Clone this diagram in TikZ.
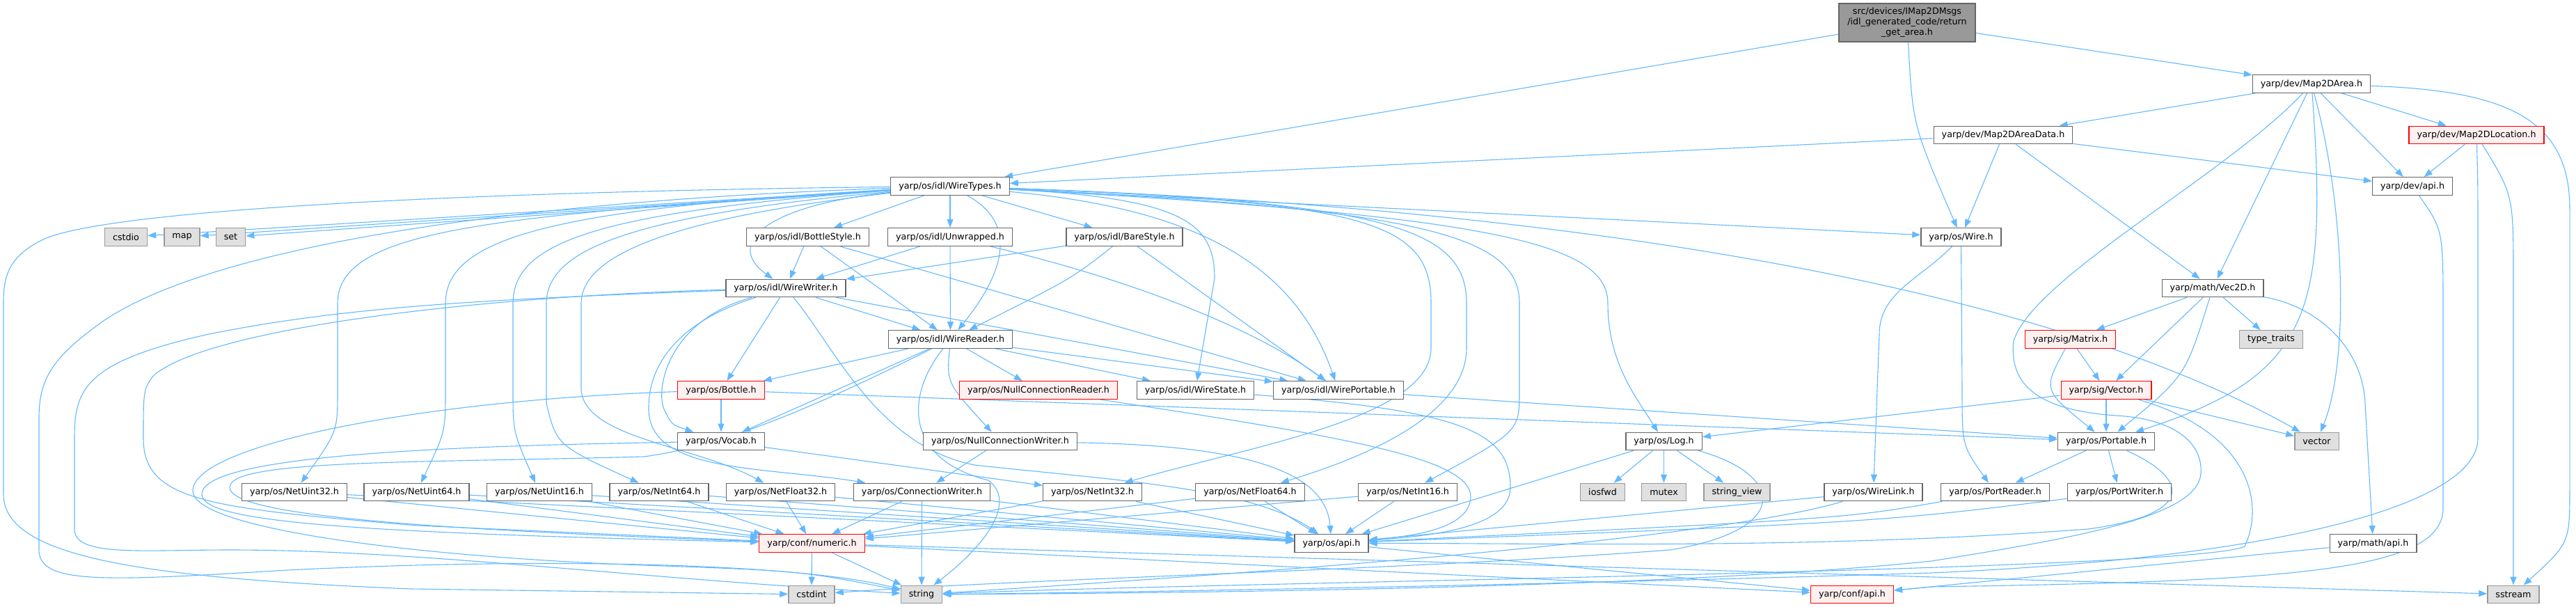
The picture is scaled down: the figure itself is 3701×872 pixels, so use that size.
\documentclass[tikz,border=0pt]{standalone}
\usepackage{fontspec}
\setmainfont{DejaVu Sans}
\usetikzlibrary{arrows.meta,backgrounds}
\definecolor{depblue}{HTML}{63B8FF}
\definecolor{truncred}{HTML}{FFF0F0}

\begin{document}
\begin{tikzpicture}[x=1pt,y=-1pt,
  file/.style={draw=black!60,fill=white,line width=1.3pt,minimum height=25.5pt,
    inner xsep=11.5pt,inner ysep=0pt,font=\fontsize{12.7}{15}\selectfont},
  trunc/.style={file,draw=red,fill=truncred},
  sys/.style={file,draw=black!40,fill=black!12},
  root/.style={file,fill=black!40,align=center,minimum width=196pt,minimum height=55pt},
  dep/.style={draw=depblue,line width=1.1pt,-{Triangle[length=12pt,width=9pt]}}]
  \useasboundingbox (0,0) rectangle (3701,872);

  % the file itself
  \node[root] (ret) at (2740,32.5) {src/devices/IMap2DMsgs\\/idl\_generated\_code/return\\\_get\_area.h};
  % dev headers
  \node[file] (area) at (3321,120.5) {yarp/dev/Map2DArea.h};
  \node[file] (areadata) at (2878,194) {yarp/dev/Map2DAreaData.h};
  \node[trunc] (loc) at (3558,194) {yarp/dev/Map2DLocation.h};
  \node[file] (devapi) at (3466,267.5) {yarp/dev/api.h};
  % idl headers
  \node[file] (wt) at (1365,267.5) {yarp/os/idl/WireTypes.h};
  \node[file] (bstyle) at (1160.5,340.5) {yarp/os/idl/BottleStyle.h};
  \node[file] (unwr) at (1365,340.5) {yarp/os/idl/Unwrapped.h};
  \node[file] (bare) at (1615.5,340.5) {yarp/os/idl/BareStyle.h};
  \node[file] (ww) at (1129,414) {yarp/os/idl/WireWriter.h};
  \node[file] (wr) at (1365.5,487.5) {yarp/os/idl/WireReader.h};
  \node[file] (wstate) at (1717.5,560.5) {yarp/os/idl/WireState.h};
  \node[file] (wport) at (1923,560.5) {yarp/os/idl/WirePortable.h};
  % os headers
  \node[file] (wire) at (2817.5,340.5) {yarp/os/Wire.h};
  \node[trunc] (bottle) at (1036,560.5) {yarp/os/Bottle.h};
  \node[trunc] (ncr) at (1492,560.5) {yarp/os/NullConnectionReader.h};
  \node[file] (vocab) at (1036,634) {yarp/os/Vocab.h};
  \node[file] (ncw) at (1437,634) {yarp/os/NullConnectionWriter.h};
  \node[file] (log) at (2390.5,634) {yarp/os/Log.h};
  \node[file] (portable) at (3026,634) {yarp/os/Portable.h};
  \node[file] (nu32) at (423,707) {yarp/os/NetUint32.h};
  \node[file] (nu64) at (598.5,707) {yarp/os/NetUint64.h};
  \node[file] (nu16) at (775,707) {yarp/os/NetUint16.h};
  \node[file] (ni64) at (947,707) {yarp/os/NetInt64.h};
  \node[file] (nf32) at (1121.5,707) {yarp/os/NetFloat32.h};
  \node[file] (cw) at (1324.5,707) {yarp/os/ConnectionWriter.h};
  \node[file] (ni32) at (1569.5,707) {yarp/os/NetInt32.h};
  \node[file] (nf64) at (1796,707) {yarp/os/NetFloat64.h};
  \node[file] (ni16) at (2022.5,707) {yarp/os/NetInt16.h};
  \node[file] (wlink) at (2691.5,707) {yarp/os/WireLink.h};
  \node[file] (preader) at (2866.5,707) {yarp/os/PortReader.h};
  \node[file] (pwriter) at (3045,707) {yarp/os/PortWriter.h};
  \node[file] (osapi) at (1913,780.5) {yarp/os/api.h};
  % math and sig headers
  \node[file] (vec2d) at (3179,414) {yarp/math/Vec2D.h};
  \node[trunc] (matrix) at (2974.5,487.5) {yarp/sig/Matrix.h};
  \node[trunc] (sigvec) at (3026,560.5) {yarp/sig/Vector.h};
  \node[file] (mathapi) at (3409.5,780.5) {yarp/math/api.h};
  % conf headers
  \node[trunc] (numeric) at (1166.5,780.5) {yarp/conf/numeric.h};
  \node[trunc] (confapi) at (2661,854) {yarp/conf/api.h};
  % system headers
  \node[sys] (cstdio) at (181,340.5) {cstdio};
  \node[sys] (stdmap) at (261.5,340.5) {map};
  \node[sys] (stdset) at (331.5,340.5) {set};
  \node[sys] (ttraits) at (3263,487.5) {type\_traits};
  \node[sys] (stdvector) at (3328.5,634) {vector};
  \node[sys] (iosfwd) at (2302.5,707) {iosfwd};
  \node[sys] (mutex) at (2390.5,707) {mutex};
  \node[sys] (strview) at (2495.5,707) {string\_view};
  \node[sys] (cstdint) at (1166,854) {cstdint};
  \node[sys] (stdstring) at (1324,854) {string};
  \node[sys] (sstream) at (3611,854) {sstream};

  \begin{scope}[on background layer]
    % from the file itself
    \draw[dep] (ret) -- (wt);
    \draw[dep] (ret) .. controls (2748,180) .. (wire);
    \draw[dep] (ret) -- (area);
    % Map2DArea.h
    \draw[dep] (area) -- (areadata);
    \draw[dep] (area) -- (loc);
    \draw[dep] (area) -- (devapi);
    \draw[dep] (area) -- (vec2d);
    \draw[dep] (area) .. controls (3345,450) and (3320,540) .. (portable);
    \draw[dep] (area) .. controls (3370,300) and (3375,520) .. (stdvector);
    \draw[dep] (area) .. controls (3200,250) and (2920,400) .. (2893,490)
      .. controls (2885,560) and (2940,590) .. (3040,597)
      .. controls (3130,602) and (3165,640) .. (3162,680)
      .. controls (3158,740) and (3000,770) .. (2775,806)
      .. controls (2400,845) and (1700,852) .. (stdstring);
    \draw[dep] (area) .. controls (3600,130) and (3692,170) .. (3692,300) -- (3692,700)
      .. controls (3692,780) .. (sstream);
    % Map2DAreaData.h
    \draw[dep] (areadata) -- (wt);
    \draw[dep] (areadata) -- (wire);
    \draw[dep] (areadata) -- (devapi);
    \draw[dep] (areadata) -- (vec2d);
    % Map2DLocation.h
    \draw[dep] (loc) -- (devapi);
    \draw[dep] (loc) .. controls (3560,260) .. (3560,400) -- (3560,630)
      .. controls (3560,720) and (3300,800) .. (2775,823)
      .. controls (2300,838) and (1700,850) .. (stdstring);
    \draw[dep] (loc) .. controls (3611,280) .. (3611,400) -- (sstream);
    % dev/api.h
    \draw[dep] (devapi) .. controls (3510,330) .. (3510,450) -- (3510,730)
      .. controls (3510,820) and (3300,835) .. (2775,843) -- (confapi);
    % WireTypes.h
    \draw[dep] (wt) -- (cstdio);
    \draw[dep] (wt) -- (stdmap);
    \draw[dep] (wt) -- (stdset);
    \draw[dep] (wt) -- (bstyle);
    \draw[dep] (wt) -- (unwr);
    \draw[dep] (wt) -- (bare);
    \draw[dep] (wt) .. controls (1100,295) and (1040,350) .. (ww);
    \draw[dep] (wt) .. controls (1480,330) and (1420,420) .. (wr);
    \draw[dep] (wt) .. controls (1700,285) and (1745,320) .. (1745,400) -- (wstate);
    \draw[dep] (wt) .. controls (1720,300) and (1860,380) .. (wport);
    \draw[dep] (wt) -- (wire);
    \draw[dep] (wt) .. controls (2150,310) and (2310,350) .. (2310,436)
      .. controls (2310,520) and (2350,570) .. (log);
    \draw[dep] (wt) .. controls (2300,300) and (2950,420) .. (stdvector);
    \draw[dep] (wt) .. controls (700,310) and (485,330) .. (485,436) -- (485,560)
      .. controls (485,620) .. (nu32);
    \draw[dep] (wt) .. controls (800,300) and (640,340) .. (640,436) -- (640,560)
      .. controls (640,620) .. (nu64);
    \draw[dep] (wt) .. controls (850,305) and (737,350) .. (737,436) -- (737,560)
      .. controls (737,620) .. (nu16);
    \draw[dep] (wt) .. controls (900,310) and (785,360) .. (785,436) -- (785,580)
      .. controls (800,640) .. (ni64);
    \draw[dep] (wt) .. controls (950,315) and (835,370) .. (835,436) -- (835,560)
      .. controls (840,630) and (1000,640) .. (nf32);
    \draw[dep] (wt) .. controls (1970,290) and (2056,320) .. (2056,436) -- (2056,500)
      .. controls (2056,600) and (1800,640) .. (ni32);
    \draw[dep] (wt) .. controls (2000,290) and (2107,330) .. (2107,436) -- (2107,500)
      .. controls (2107,600) and (1950,660) .. (nf64);
    \draw[dep] (wt) .. controls (2050,300) and (2183,340) .. (2183,436) -- (2183,560)
      .. controls (2183,620) .. (ni16);
    \draw[dep] (wt) .. controls (700,275) and (150,300) .. (60,345)
      .. controls (10,370) and (5,400) .. (5,436) -- (5,710)
      .. controls (5,800) and (200,830) .. (590,846) -- (cstdint);
    \draw[dep] (wt) .. controls (700,290) and (300,360) .. (150,460)
      .. controls (80,510) and (56,540) .. (56,600) -- (56,790)
      .. controls (56,840) and (150,835) .. (413,819)
      .. controls (800,800) and (1150,810) .. (stdstring);
    % the three styles
    \draw[dep] (bstyle) -- (ww);
    \draw[dep] (bstyle) -- (wr);
    \draw[dep] (bstyle) -- (wport);
    \draw[dep] (unwr) -- (ww);
    \draw[dep] (unwr) -- (wr);
    \draw[dep] (unwr) .. controls (1620,400) and (1800,470) .. (wport);
    \draw[dep] (bare) -- (ww);
    \draw[dep] (bare) .. controls (1540,400) .. (wr);
    \draw[dep] (bare) -- (wport);
    % WireWriter.h
    \draw[dep] (ww) .. controls (980,460) and (930,520) .. (932,590)
      .. controls (935,680) and (1100,670) .. (cw);
    \draw[dep] (ww) .. controls (960,460) and (940,560) .. (955,590)
      .. controls (965,610) .. (vocab);
    \draw[dep] (ww) -- (bottle);
    \draw[dep] (ww) .. controls (1200,500) and (1260,640) .. (1400,668)
      .. controls (1600,690) and (1800,700) .. (osapi);
    \draw[dep] (ww) -- (wr);
    \draw[dep] (ww) -- (wport);
    \draw[dep] (ww) .. controls (700,430) and (500,440) .. (300,480)
      .. controls (120,520) and (107,560) .. (107,630) -- (107,760)
      .. controls (107,800) and (200,790) .. (330,790)
      .. controls (600,790) and (900,830) .. (stdstring);
    \draw[dep] (ww) .. controls (700,425) and (300,470) .. (220,540)
      .. controls (206,560) .. (206,630)
      .. controls (206,720) and (300,730) .. (600,755) -- (numeric);
    % WireReader.h
    \draw[dep] (wr) -- (bottle);
    \draw[dep] (wr) -- (vocab);
    \draw[dep] (wr) -- (ncr);
    \draw[dep] (wr) -- (wstate);
    \draw[dep] (wr) -- (wport);
    \draw[dep] (wr) .. controls (1360,550) .. (ncw);
    \draw[dep] (wr) .. controls (1300,570) and (1300,660) .. (1420,690)
      .. controls (1460,720) and (1420,780) .. (stdstring);
    \draw[dep] (wr) .. controls (1200,570) and (1050,640) .. (925,656)
      .. controls (600,665) and (330,660) .. (330,700)
      .. controls (330,740) and (600,760) .. (numeric);
    % Bottle.h and Vocab.h
    \draw[dep] (bottle) -- (vocab);
    \draw[dep] (bottle) -- (portable);
    \draw[dep] (bottle) .. controls (600,575) and (277,640) .. (277,705)
      .. controls (277,760) and (600,800) .. (925,812)
      .. controls (1150,820) .. (stdstring);
    \draw[dep] (vocab) .. controls (700,640) and (290,650) .. (290,710)
      .. controls (290,750) and (500,765) .. (numeric);
    \draw[dep] (vocab) -- (ni32);
    % idl state, portable and null connections
    \draw[dep] (ncr) .. controls (1950,630) and (2115,660) .. (2113,715)
      .. controls (2110,760) and (2030,770) .. (osapi);
    \draw[dep] (wstate) .. controls (2100,590) and (2170,620) .. (2170,700)
      .. controls (2170,760) and (2050,770) .. (osapi);
    \draw[dep] (wport) -- (portable);
    \draw[dep] (ncw) -- (cw);
    \draw[dep] (ncw) .. controls (1800,640) and (1905,680) .. (osapi);
    % ConnectionWriter.h
    \draw[dep] (cw) -- (numeric);
    \draw[dep] (cw) -- (stdstring);
    \draw[dep] (cw) -- (osapi);
    % the net types
    \foreach \n in {nu32,nu64,nu16,ni64,nf32,ni32,nf64,ni16} {
      \draw[dep] (\n) -- (numeric);
      \draw[dep] (\n) -- (osapi);
    }
    % Log.h
    \draw[dep] (log) -- (iosfwd);
    \draw[dep] (log) -- (mutex);
    \draw[dep] (log) -- (strview);
    \draw[dep] (log) -- (osapi);
    \draw[dep] (log) .. controls (2560,680) and (2580,760) .. (2400,790)
      .. controls (2000,820) and (1500,830) .. (cstdint);
    % Wire.h and WireLink.h
    \draw[dep] (wire) .. controls (2760,400) and (2700,420) .. (2700,480) -- (wlink);
    \draw[dep] (wire) -- (2819,560) .. controls (2819,640) .. (preader);
    \draw[dep] (wlink) -- (osapi);
    \draw[dep] (wlink) .. controls (2450,780) and (1700,830) .. (stdstring);
    % Portable.h
    \draw[dep] (portable) -- (preader);
    \draw[dep] (portable) -- (pwriter);
    \draw[dep] (portable) .. controls (3150,690) and (3150,740) .. (3000,760)
      .. controls (2600,790) and (2200,780) .. (osapi);
    \draw[dep] (preader) .. controls (2650,745) .. (osapi);
    \draw[dep] (pwriter) .. controls (2700,750) .. (osapi);
    % sig and math
    \draw[dep] (sigvec) -- (portable);
    \draw[dep] (sigvec) -- (stdvector);
    \draw[dep] (sigvec) -- (log);
    \draw[dep] (sigvec) .. controls (3230,620) and (3255,720) .. (3225,785)
      .. controls (3150,820) and (1800,835) .. (stdstring);
    \draw[dep] (matrix) -- (sigvec);
    \draw[dep] (matrix) .. controls (2935,560) .. (portable);
    \draw[dep] (vec2d) -- (matrix);
    \draw[dep] (vec2d) -- (sigvec);
    \draw[dep] (vec2d) .. controls (3140,540) .. (portable);
    \draw[dep] (vec2d) -- (ttraits);
    \draw[dep] (vec2d) .. controls (3330,440) and (3395,500) .. (3398,580) -- (mathapi);
    \draw[dep] (mathapi) -- (confapi);
    \draw[dep] (osapi) -- (confapi);
    % numeric.h
    \draw[dep] (numeric) -- (cstdint);
    \draw[dep] (numeric) -- (stdstring);
    \draw[dep] (numeric) -- (confapi);
    \draw[dep] (numeric) -- (sstream);
  \end{scope}
\end{tikzpicture}
\end{document}
